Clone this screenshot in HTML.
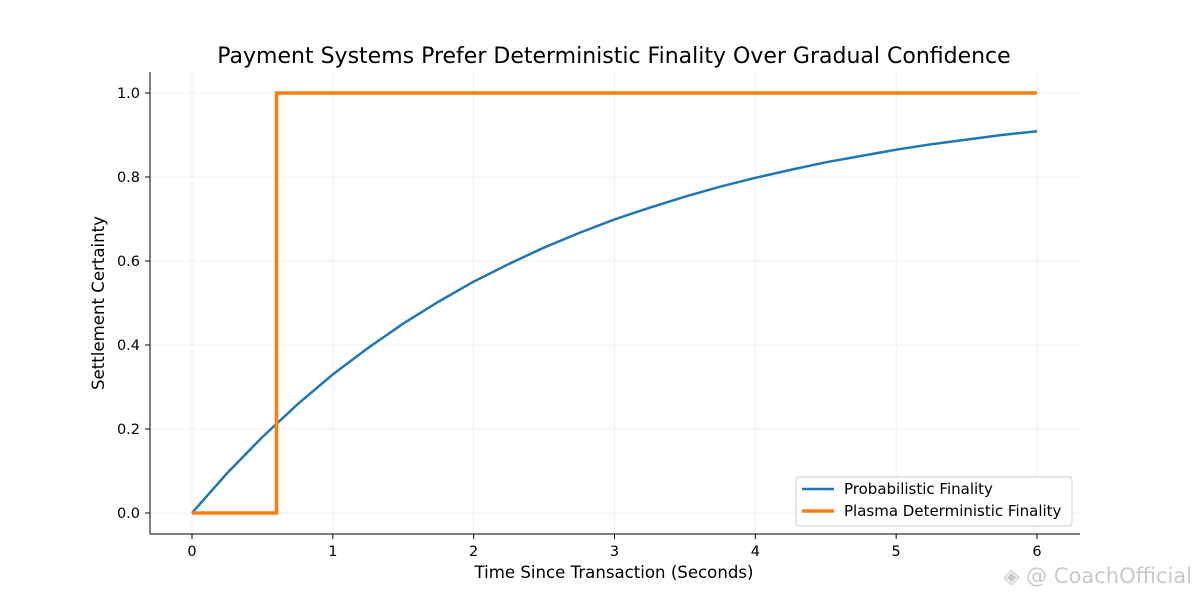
<!DOCTYPE html>
<html><head><meta charset="utf-8"><style>
body{margin:0;background:#fff;width:1200px;height:600px;overflow:hidden;font-family:"DejaVu Sans","Liberation Sans",sans-serif}
</style></head><body>
<svg id="chart" width="1200" height="600" xmlns="http://www.w3.org/2000/svg">
<text x="614" y="63" text-anchor="middle" font-size="22" fill="#000">Payment Systems Prefer Deterministic Finality Over Gradual Confidence</text>
<g id="grid"></g><g id="axes"></g><g id="series"></g>
<text x="614" y="578" text-anchor="middle" font-size="16.6">Time Since Transaction (Seconds)</text>
<text transform="translate(104,303) rotate(-90)" text-anchor="middle" font-size="16.6">Settlement Certainty</text>
<g>
<rect x="796" y="477" width="276" height="49" rx="3" fill="#fff" stroke="#ccc"/>
<line x1="802" y1="489" x2="834" y2="489" stroke="#1f77b4" stroke-width="2.5"/>
<text x="844" y="494" font-size="15">Probabilistic Finality</text>
<line x1="802" y1="511" x2="834" y2="511" stroke="#ff7f0e" stroke-width="3.5"/>
<text x="844" y="516" font-size="15">Plasma Deterministic Finality</text>
</g>
<text x="1192" y="583" text-anchor="end" font-size="21" fill="#c8c8c8">◈ @ CoachOfficial</text>
</svg>
<script>
const xTicks=[0,1,2,3,4,5,6];
const yTicks=[0.0,0.2,0.4,0.6,0.8,1.0];
const probT=[0,0.25,0.5,0.75,1,1.25,1.5,1.75,2,2.25,2.5,2.75,3,3.25,3.5,3.75,4,4.25,4.5,4.75,5,5.25,5.5,5.75,6];
const probV=[0,0.095,0.181,0.259,0.330,0.393,0.451,0.503,0.551,0.593,0.632,0.667,0.699,0.727,0.753,0.777,0.798,0.817,0.835,0.850,0.865,0.878,0.889,0.900,0.909];
const stepT=[0,0.6,0.6,6];
const stepV=[0,0,1,1];
const X=t=>192+t*140.83, Y=v=>513-v*420;
const NS="http://www.w3.org/2000/svg";
function mk(tag,attrs,parent){const e=document.createElementNS(NS,tag);for(const k in attrs)e.setAttribute(k,attrs[k]);parent.appendChild(e);return e;}
const grid=document.getElementById('grid'),axes=document.getElementById('axes'),ser=document.getElementById('series');
xTicks.forEach(t=>{
 const g=mk('line',{x1:X(t),x2:X(t),y1:72,y2:534,stroke:'#ebebeb','stroke-width':0.8},grid);
 
 
 const tk=mk('line',{x1:X(t),x2:X(t),y1:534,y2:539,stroke:'#000'},axes);
 
 
 const l=mk('text',{x:X(t),y:556,'text-anchor':'middle','font-size':14.5},axes);l.textContent=t;
 
 
});
yTicks.forEach(v=>{
 const g=mk('line',{x1:150,x2:1080,y1:Y(v),y2:Y(v),stroke:'#ebebeb','stroke-width':0.8},grid);
 
 
 const tk=mk('line',{x1:145,x2:150,y1:Y(v),y2:Y(v),stroke:'#000'},axes);
 
 
 const l=mk('text',{x:140,y:Y(v)+5,'text-anchor':'end','font-size':14.5},axes);l.textContent=v.toFixed(1);
 
 
});
const ls=mk('line',{x1:150,x2:150,y1:72,y2:534,stroke:'#000','stroke-width':1},axes);


const bs=mk('line',{x1:150,x2:1080,y1:534,y2:534,stroke:'#000','stroke-width':1},axes);


const p1=mk('polyline',{points:probT.map((t,i)=>X(t)+','+Y(probV[i])).join(' '),fill:'none',stroke:'#1f77b4','stroke-width':2.5,'stroke-linejoin':'round'},ser);


const p2=mk('polyline',{points:stepT.map((t,i)=>X(t)+','+Y(stepV[i])).join(' '),fill:'none',stroke:'#ff7f0e','stroke-width':3.5},ser);


</script>
</body></html>
